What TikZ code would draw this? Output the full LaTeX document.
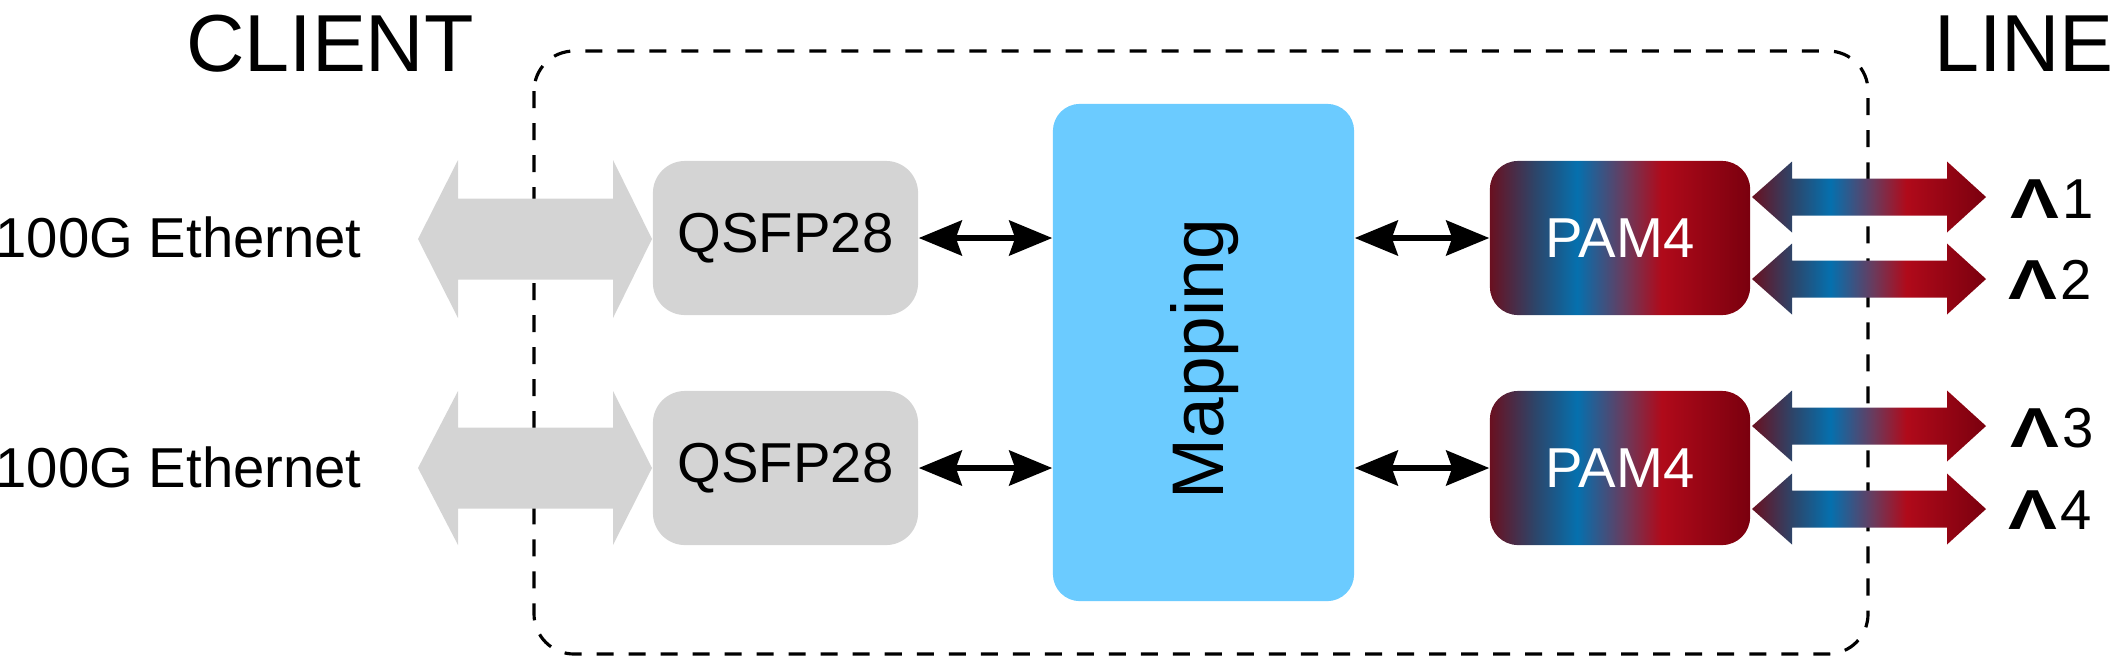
\documentclass[tikz,border=0pt]{standalone}
\usepackage{fontspec}
\setmainfont{Liberation Sans}
\usetikzlibrary{arrows.meta,positioning}
\definecolor{qsfpgrey}{HTML}{D4D4D4}
\definecolor{mapblue}{HTML}{6BCBFF}
\definecolor{pamA}{HTML}{6A1020}
\definecolor{pamB}{HTML}{2E4468}
\definecolor{pamC}{HTML}{0570AE}
\definecolor{pamD}{HTML}{6B3A5C}
\definecolor{pamE}{HTML}{B00A1A}
\definecolor{pamF}{HTML}{7A000E}
\pgfdeclarehorizontalshading{pamgrad}{100bp}{color(0bp)=(pamA); color(25bp)=(pamA); color(33.5bp)=(pamB); color(41.75bp)=(pamC); color(51bp)=(pamD); color(58bp)=(pamE); color(75bp)=(pamF); color(100bp)=(pamF)}
\newcommand{\txt}{\fontsize{16}{19}\selectfont}
\newcommand{\bigtxt}{\fontsize{23}{27}\selectfont}
\newcommand{\lam}{\scalebox{1.3}[1]{\textbf{Λ}}\hspace{0.05em}}
\newcommand{\fatarrow}[4]{\path[#1] (#2) -- ++(40,-#3) -- ++(0,#3-#4) -- ++(155,0) -- ++(0,#4-#3) -- ++(39,#3) -- ++(-39,#3) -- ++(0,#4-#3) -- ++(-155,0) -- ++(0,#3-#4) -- cycle;}

\begin{document}
\begin{tikzpicture}[x=0.01cm,y=-0.01cm,>={Stealth[length=4.3mm,width=3.5mm,inset=0.6mm]},
  qsfp/.style={fill=qsfpgrey,rounded corners=3.2mm,minimum width=2.65cm,minimum height=1.54cm,inner sep=0,font=\txt},
  mapbox/.style={fill=mapblue,rounded corners=2.7mm,minimum width=3.01cm,minimum height=4.97cm,inner sep=0},
  pam/.style={shade,shading=pamgrad,rounded corners=2.8mm,minimum width=2.6cm,minimum height=1.54cm,inner sep=0,text=white,font=\txt},
  gradarrow/.style={shade,shading=pamgrad},
  lbl/.style={font=\txt,anchor=base west,inner sep=0}]
\useasboundingbox (0,0) rectangle (2116,657);
\draw[line width=0.9pt,dash pattern=on 1.7mm off 1.5mm,rounded corners=4mm] (534,51) rectangle (1868,654);
\node[font=\bigtxt,anchor=base] (client) at (330,71) {CLIENT};
\node[font=\bigtxt,anchor=base] (line) at (2024,71) {LINE};
\node[lbl] (eth1) at (-5,257) {100G Ethernet};
\node[lbl] (eth2) at (-5,487) {100G Ethernet};
\node[qsfp] (q1) at (785.5,238) {QSFP28};
\node[qsfp] (q2) at (785.5,468) {QSFP28};
\node[mapbox] (map) at (1203.5,352.5) {};
\node[rotate=90,font=\fontsize{20.8}{24}\selectfont] (maptext) at (1204.5,359) {Mapping};
\node[pam] (p1) at (1620,238) {PAM4};
\node[pam] (p2) at (1620,468) {PAM4};
% client side
\coordinate (g1) at (418,239);
\coordinate (g2) at (418,468);
\fatarrow{fill=qsfpgrey}{g1}{79}{40.5}
\fatarrow{fill=qsfpgrey}{g2}{77}{40.5}
\draw[<->,line width=1.5pt] (q1.east) -- (q1.east -| map.west);
\draw[<->,line width=1.5pt] (q2.east) -- (q2.east -| map.west);
\draw[<->,line width=1.5pt] (map.east |- p1.west) -- (p1.west);
\draw[<->,line width=1.5pt] (map.east |- p2.west) -- (p2.west);
% line side
\coordinate (w1) at (1752,197);
\coordinate (w2) at (1752,279);
\coordinate (w3) at (1752,426);
\coordinate (w4) at (1752,509);
\fatarrow{gradarrow}{w1}{35.5}{18.5}
\fatarrow{gradarrow}{w2}{35.5}{18.5}
\fatarrow{gradarrow}{w3}{35.5}{18.5}
\fatarrow{gradarrow}{w4}{35.5}{18.5}
\node[lbl] (lam1) at (2010,218) {\lam1};
\node[lbl] (lam2) at (2008,299) {\lam2};
\node[lbl] (lam3) at (2010,447) {\lam3};
\node[lbl] (lam4) at (2008,529) {\lam4};
\end{tikzpicture}
\end{document}
